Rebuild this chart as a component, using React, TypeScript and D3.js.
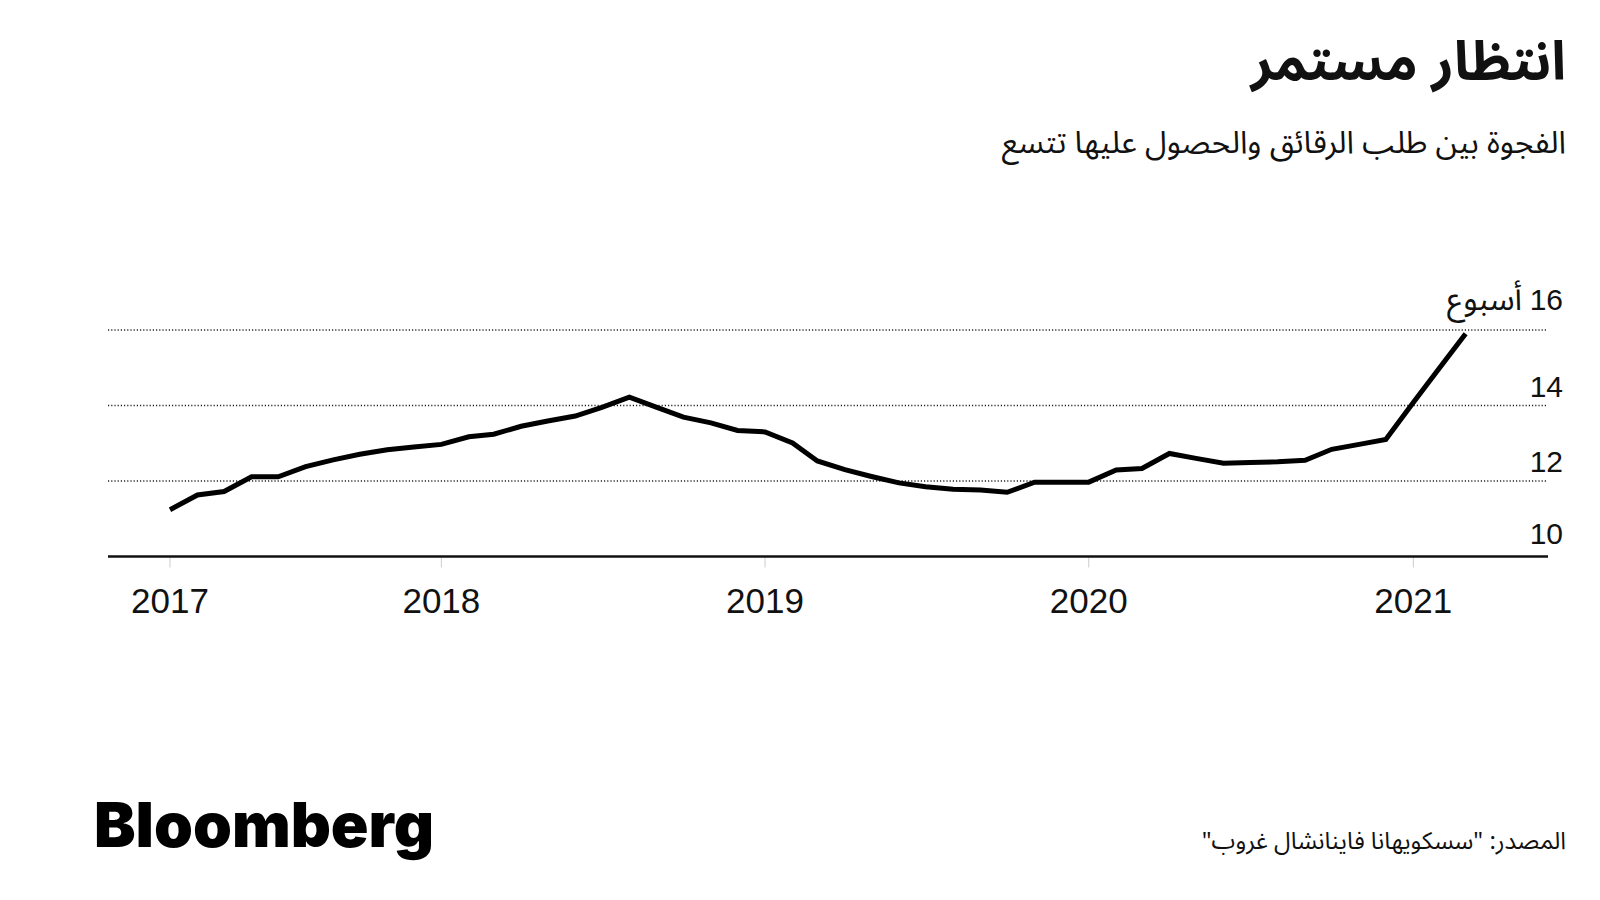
import React from "react";
import * as d3 from "d3";

// ---- Data ----
const months: string[] = [
  "2017-03", "2017-04", "2017-05", "2017-06", "2017-07", "2017-08", "2017-09", "2017-10", "2017-11", "2017-12",
  "2018-01", "2018-02", "2018-03", "2018-04", "2018-05", "2018-06", "2018-07", "2018-08", "2018-09", "2018-10", "2018-11", "2018-12",
  "2019-01", "2019-02", "2019-03", "2019-04", "2019-05", "2019-06", "2019-07", "2019-08", "2019-09", "2019-10", "2019-11", "2019-12",
  "2020-01", "2020-02", "2020-03", "2020-04", "2020-05", "2020-06", "2020-07", "2020-08", "2020-09", "2020-10", "2020-11", "2020-12",
  "2021-01", "2021-02", "2021-03",
];
const leadWeeks: number[] = [
  11.24, 11.63, 11.72, 12.11, 12.11, 12.38, 12.56, 12.71, 12.83, 12.90,
  12.97, 13.17, 13.24, 13.45, 13.59, 13.72, 13.95, 14.22, 13.95, 13.69, 13.54, 13.34,
  13.30, 13.01, 12.53, 12.30, 12.12, 11.95, 11.85, 11.78, 11.76, 11.70, 11.97, 11.97,
  11.97, 12.29, 12.33, 12.73, 12.60, 12.47, 12.49, 12.51, 12.55, 12.84, 12.97, 13.10,
  14.08, 15.04, 15.90,
];
const yTicks: number[] = [10, 12, 14, 16];
const yUnitLabel = "أسبوع";
const xTickDates: string[] = ["2017-03-01", "2018-01-01", "2019-01-01", "2020-01-01", "2021-01-01"];
const xTickLabels: string[] = ["2017", "2018", "2019", "2020", "2021"];

const title = "انتظار مستمر";
const subtitle = "الفجوة بين طلب الرقائق والحصول عليها تتسع";
const source = "المصدر: \"سسكويهانا فاينانشال غروب\"";
const brand = "Bloomberg";

const parseMonth = d3.timeParse("%Y-%m");
const parseDay = d3.timeParse("%Y-%m-%d");

const arabicFont = "'Noto Sans Arabic', 'DejaVu Sans', sans-serif";
const latinFont = "'Liberation Sans', Arial, sans-serif";

export default function App() {
  const W = 1600;
  const H = 900;
  const left = 108;
  const right = 1548;

  const x = d3
    .scaleTime()
    .domain([parseDay("2017-03-01") as Date, parseDay("2021-01-01") as Date])
    .range([170, 1413.3]);
  const y = d3.scaleLinear().domain([10, 16]).range([556.5, 330]);

  const data = months.map((m, i) => ({ date: parseMonth(m) as Date, value: leadWeeks[i] }));
  const line = d3
    .line<{ date: Date; value: number }>()
    .x((d) => x(d.date))
    .y((d) => y(d.value));

  const labelOffset = (v: number) => (v === 16 ? 20 : v === 10 ? 13 : 9);

  return (
    <svg
      width={W}
      height={H}
      viewBox={`0 0 ${W} ${H}`}
      style={{ position: "absolute", left: 0, top: 0, background: "#fff" }}
    >
      <rect x={0} y={0} width={W} height={H} fill="#fff" />
      {/* Title */}
      <text x={1566} y={80} textAnchor="end" fontFamily={arabicFont} fontWeight={700} fontSize={54} fill="#111">
        {title}
      </text>
      <text x={1566} y={153} textAnchor="end" fontFamily={arabicFont} fontWeight={400} fontSize={31.5} fill="#111">
        {subtitle}
      </text>

      {/* Grid lines */}
      {yTicks
        .filter((v) => v !== 10)
        .map((v) => (
          <line
            key={"g" + v}
            x1={left}
            x2={1547}
            y1={y(v)}
            y2={y(v)}
            stroke="#222"
            strokeWidth={1.3}
            strokeDasharray="1.2,2"
          />
        ))}

      {/* X tick marks */}
      {xTickDates.map((d, i) => {
        const xx = x(parseDay(d) as Date);
        return (
          <g key={"xt" + i}>
            <line x1={xx} x2={xx} y1={y(10)} y2={y(10) + 11} stroke="#ccc" strokeWidth={1} />
            <text x={xx} y={613} textAnchor="middle" fontFamily={latinFont} fontSize={35} fill="#111">
              {xTickLabels[i]}
            </text>
          </g>
        );
      })}

      {/* Axis baseline */}
      <line x1={left} x2={right} y1={y(10)} y2={y(10)} stroke="#111" strokeWidth={2.5} />

      {/* Y labels */}
      {yTicks.map((v) => (
        <text
          key={"yl" + v}
          x={1563}
          y={y(v) - labelOffset(v)}
          textAnchor="end"
          fontFamily={latinFont}
          fontSize={30}
          fill="#111"
        >
          {v}
        </text>
      ))}
      <text x={1522} y={y(16) - labelOffset(16)} textAnchor="end" fontFamily={arabicFont} fontSize={32} fill="#111">
        {yUnitLabel}
      </text>

      {/* Line */}
      <path d={line(data) || ""} fill="none" stroke="#000" strokeWidth={5} strokeLinejoin="miter" strokeLinecap="butt" />

      {/* Footer */}
      <text
        x={94}
        y={847}
        fontFamily="Inter, 'Liberation Sans', Arial, sans-serif"
        fontWeight={900}
        fontSize={62}
        fill="#000"
        textLength={340}
        lengthAdjust="spacingAndGlyphs"
      >
        {brand}
      </text>
      <text
        x={1566}
        y={849}
        direction="rtl"
        textAnchor="start"
        fontFamily={arabicFont}
        fontSize={24}
        fill="#111"
        style={{ direction: "rtl", unicodeBidi: "embed" }}
      >
        {source}
      </text>
    </svg>
  );
}
